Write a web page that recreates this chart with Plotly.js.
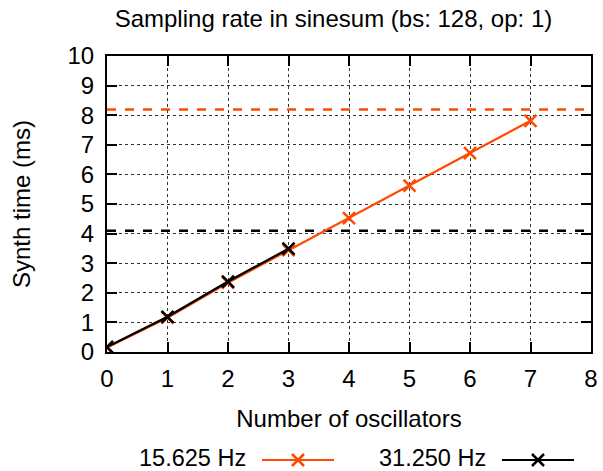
<!DOCTYPE html>
<html><head><meta charset="utf-8">
<script src="https://cdn.plot.ly/plotly-3.0.1.min.js"></script>
<style>html,body{margin:0;padding:0;background:#fff}</style>
</head><body>
<div id="chart" style="width:603px;height:471px"></div>
<script>
// Data
const oscillators15 = [0, 1, 2, 3, 4, 5, 6, 7];
const synthTime15 = [0.15, 1.16, 2.34, 3.44, 4.52, 5.62, 6.72, 7.81];
const oscillators31 = [0, 1, 2, 3];
const synthTime31 = [0.17, 1.19, 2.38, 3.49];
const limit15 = 8.192;   // 128 / 15.625
const limit31 = 4.096;   // 128 / 31.25
const seriesNames = ["15.625 Hz", "31.250 Hz"];
const xTicks = [0, 1, 2, 3, 4, 5, 6, 7, 8];
const yTicks = [0, 1, 2, 3, 4, 5, 6, 7, 8, 9, 10];
const yTitle = "Synth time (ms)";

const orange = "#ff4a00";
const black = "#000000";
const FONT = "Liberation Sans, Arial, sans-serif";
const FS = 24;

const traces = [
  {x: [xTicks[0], xTicks[xTicks.length-1]], y: [limit15, limit15], mode: "lines",
   line: {color: orange, width: 2.5, dash: "dash"}, showlegend: false, hoverinfo: "skip"},
  {x: [xTicks[0], xTicks[xTicks.length-1]], y: [limit31, limit31], mode: "lines",
   line: {color: black, width: 2.5, dash: "dash"}, showlegend: false, hoverinfo: "skip"},
  {x: oscillators15, y: synthTime15, mode: "lines+markers", name: seriesNames[0],
   line: {color: orange, width: 2.2}, marker: {symbol: "x-thin", size: 12, line: {color: orange, width: 2.5}},
   showlegend: false},
  {x: oscillators31, y: synthTime31, mode: "lines+markers", name: seriesNames[1],
   line: {color: black, width: 2.2}, marker: {symbol: "x-thin", size: 12, line: {color: black, width: 2.5}},
   showlegend: false}
];

const axisCommon = {
  showline: true, linecolor: "#000", linewidth: 2, mirror: "allticks",
  ticks: "inside", ticklen: 10, tickwidth: 2, tickcolor: "#000",
  showgrid: true, gridcolor: "#333", griddash: "dot", gridwidth: 1,
  zeroline: false, tickfont: {family: FONT, size: FS, color: "#000"}
};

const shapes = [];
const annotations = [];
// plot area: x 107..591 (484 px), y 56..352 (296 px)
function px(v) { return (v - 107) / 484; }
function py(v) { return (352 - v) / 296; }

// y-axis title as rotated annotation
annotations.push({xref: "paper", yref: "paper", x: px(21), y: py(204), xanchor: "center", yanchor: "middle",
  text: yTitle, textangle: -90, showarrow: false, font: {family: FONT, size: FS, color: "#000"}});

// Legend drawn in paper coordinates (below the plot)
const legY = py(458);
function legendEntry(label, color, textRight, lineX0, lineX1) {
  annotations.push({xref: "paper", yref: "paper", x: textRight, y: legY, xanchor: "right", yanchor: "middle",
    text: label, showarrow: false, borderpad: 0, font: {family: FONT, size: 23.5, color: "#000"}});
  shapes.push({type: "line", xref: "paper", yref: "paper", x0: lineX0, x1: lineX1, y0: py(460), y1: py(460),
    line: {color: color, width: 2.2}});
  const cx = (lineX0 + lineX1) / 2, cy = py(460), dx = 6 / 484, dy = 6 / 296;
  shapes.push({type: "line", xref: "paper", yref: "paper", x0: cx - dx, x1: cx + dx, y0: cy - dy, y1: cy + dy, line: {color: color, width: 2.5}});
  shapes.push({type: "line", xref: "paper", yref: "paper", x0: cx - dx, x1: cx + dx, y0: cy + dy, y1: cy - dy, line: {color: color, width: 2.5}});
}
legendEntry(seriesNames[0], orange, px(247), px(262), px(334));
legendEntry(seriesNames[1], black, px(487), px(502), px(574));

const layout = {
  width: 603, height: 471,
  margin: {l: 107, r: 12, t: 56, b: 119},
  paper_bgcolor: "#fff", plot_bgcolor: "#fff",
  title: {text: "Sampling rate in sinesum (bs: 128, op: 1)", font: {family: FONT, size: 24, color: "#000"},
          xref: "container", x: 0.553, xanchor: "center", yref: "container", y: 1 - 19/471, yanchor: "middle"},
  xaxis: Object.assign({}, axisCommon, {range: [0, 8], tickvals: xTicks, ticktext: xTicks.map(String),
    ticklabelstandoff: 4,
    title: {text: "Number of oscillators", font: {family: FONT, size: FS, color: "#000"}, standoff: 19}}),
  yaxis: Object.assign({}, axisCommon, {range: [0, 10], tickvals: yTicks, ticktext: yTicks.map(String),
    ticklabelstandoff: 6}),
  shapes: shapes, annotations: annotations, showlegend: false
};

Plotly.newPlot("chart", traces, layout, {staticPlot: true, displayModeBar: false});
</script>
</body></html>
